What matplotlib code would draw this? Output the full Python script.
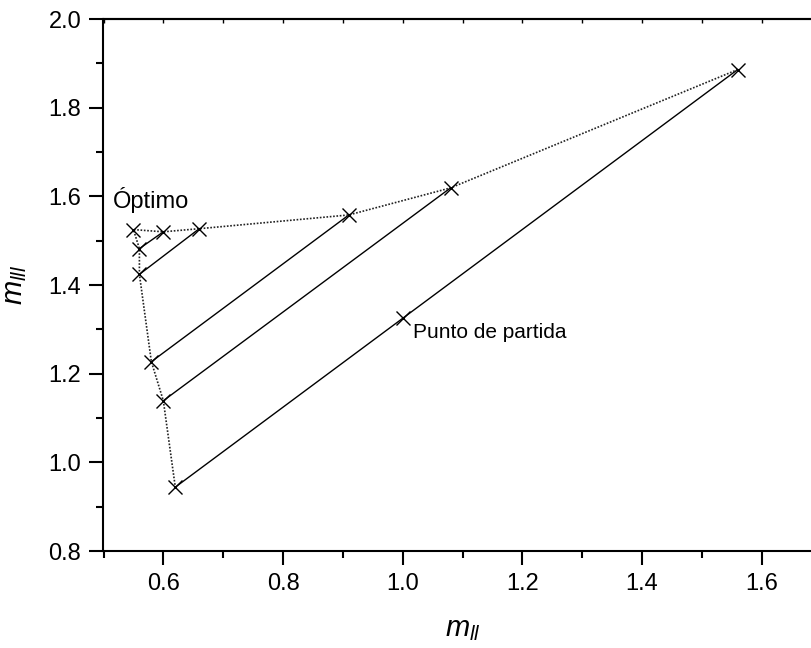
import matplotlib
matplotlib.use("Agg")
import matplotlib.pyplot as plt
from matplotlib.ticker import MultipleLocator

plt.rcParams['font.family'] = ['Liberation Sans', 'DejaVu Sans']
plt.rcParams['mathtext.fontset'] = 'custom'
plt.rcParams['mathtext.it'] = 'Liberation Sans:italic'
plt.rcParams['mathtext.rm'] = 'Liberation Sans'

# dotted path through all iterates (upper points right-to-left, then down)
path_x = [1.56, 1.08, 0.91, 0.66, 0.60, 0.55, 0.56, 0.56, 0.58, 0.60, 0.62]
path_y = [1.886, 1.619, 1.558, 1.527, 1.520, 1.525, 1.482, 1.424, 1.227, 1.139, 0.944]

# solid search directions (start x, start y, end x, end y)
seg_x0 = [0.62, 0.60, 0.58, 0.56, 0.56]
seg_y0 = [0.944, 1.139, 1.227, 1.424, 1.482]
seg_x1 = [1.56, 1.08, 0.91, 0.66, 0.60]
seg_y1 = [1.886, 1.619, 1.558, 1.527, 1.520]

start_x = [1.00]
start_y = [1.326]

fig = plt.figure(figsize=(8.11, 6.48), dpi=100)
ax = fig.add_axes([103.5 / 811, 1 - 551 / 648, 718 / 811, 532 / 648])

for x0, y0, x1, y1 in zip(seg_x0, seg_y0, seg_x1, seg_y1):
    ax.plot([x0, x1], [y0, y1], color='black', lw=1.0, zorder=2)

ax.plot(path_x, path_y, color='#222222', lw=1.2, linestyle=(0, (1, 1)),
        marker='x', markersize=9.5, markeredgewidth=1.0, markeredgecolor='black', zorder=3)
ax.plot(start_x, start_y, linestyle='none', marker='x', markersize=9.5,
        markeredgewidth=1.0, color='black', zorder=3)

ax.text(0.516, 1.574, 'Óptimo', fontsize=17, va='baseline', ha='left')
ax.text(1.0176, 1.281, 'Punto de partida', fontsize=15, va='baseline', ha='left')

ax.set_xlim(0.5, 1.7)
ax.set_ylim(0.8, 2.0)
ax.xaxis.set_minor_locator(MultipleLocator(0.1))
ax.yaxis.set_minor_locator(MultipleLocator(0.1))
ax.set_xticks([0.6, 0.8, 1.0, 1.2, 1.4, 1.6])
ax.set_xticklabels(['0.6', '0.8', '1.0', '1.2', '1.4', '1.6'])
ax.set_yticks([0.8, 1.0, 1.2, 1.4, 1.6, 1.8, 2.0])
ax.set_yticklabels(['0.8', '1.0', '1.2', '1.4', '1.6', '1.8', '2.0'])

ax.tick_params(which='major', direction='out', length=10, width=1.5, labelsize=17, pad=6)
ax.tick_params(which='minor', direction='out', length=5, width=1.5)
for s in ['left', 'bottom', 'top']:
    ax.spines[s].set_linewidth(1.5)
ax.spines['right'].set_visible(False)

sec = ax.secondary_xaxis('top')
sec.xaxis.set_major_locator(MultipleLocator(0.1))
sec.tick_params(which='both', direction='in', length=3, width=1.0, labeltop=False)
sec.spines['top'].set_linewidth(1.5)

ax.set_xlabel(r'$m_{ll}$', fontsize=21, labelpad=14)
ax.set_ylabel(r'$m_{lll}$', fontsize=21, labelpad=14)

fig.savefig('out.png', dpi=100)
